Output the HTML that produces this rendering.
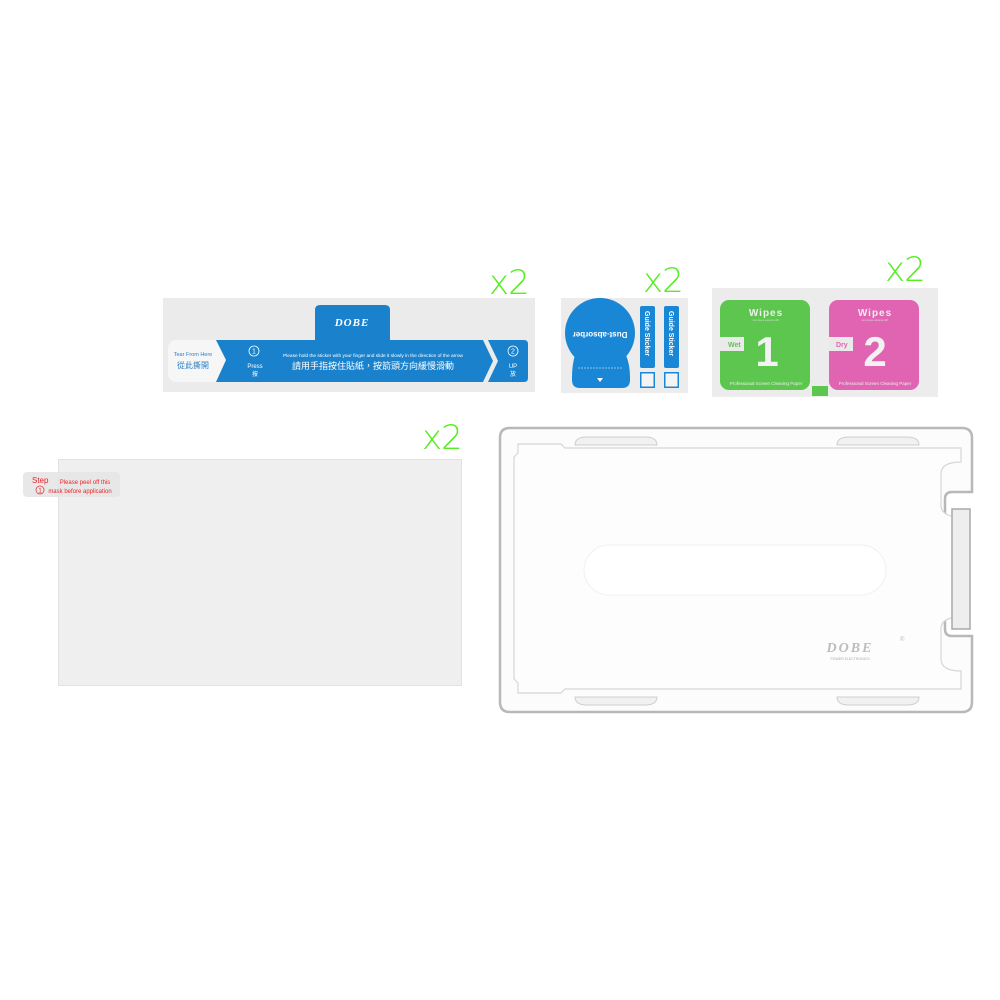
<!DOCTYPE html>
<html><head><meta charset="utf-8"><style>
body{margin:0;width:1000px;height:1000px;background:#fff;position:relative;overflow:hidden;font-family:"Liberation Sans","Noto Sans CJK TC",sans-serif}
.x2{position:absolute;color:#55ee22;font-size:34px;line-height:34px;font-family:"DejaVu Sans","Liberation Sans",sans-serif;font-weight:300;letter-spacing:-1px}
</style></head><body>
<div class="x2" style="left:489px;top:266px">x2</div>
<div class="x2" style="left:643px;top:264px">x2</div>
<div class="x2" style="left:885px;top:253px">x2</div>
<div class="x2" style="left:422px;top:421px">x2</div>

<svg width="1000" height="1000" style="position:absolute;left:0;top:0" xmlns="http://www.w3.org/2000/svg" font-family="Liberation Sans, Noto Sans CJK TC, sans-serif">
<!-- sticker strip -->
<rect x="163" y="298" width="372" height="94" fill="#ebebeb"/>
<rect x="168" y="340" width="62" height="42" rx="8" fill="#f6f6f6"/>
<text x="193" y="356" font-size="5.5" fill="#2a7fc8" text-anchor="middle">Tear From Here</text>
<text x="193" y="368" font-size="8" fill="#2a7fc8" text-anchor="middle">從此撕開</text>
<path d="M315,310 q0,-5 5,-5 h65 q5,0 5,5 v30 h-75z" fill="#1a82cc"/>
<text x="352" y="326" font-size="11" font-style="italic" font-weight="bold" font-family="Liberation Serif,serif" fill="#fff" text-anchor="middle" letter-spacing="1">DOBE</text>
<path d="M216,340 h14 l10,20 l-10,22 h-14 l10,-22z" fill="#1a82cc"/>
<path d="M228,340 h255 l10,21 l-10,21 h-255 l10,-21z" fill="#1a82cc"/>
<path d="M488,340 h36 q4,0 4,4 v34 q0,4 -4,4 h-36 l10,-21z" fill="#1a82cc"/>
<circle cx="254" cy="351" r="5" fill="none" stroke="#fff" stroke-width="0.8"/>
<text x="254" y="353.5" font-size="7" fill="#fff" text-anchor="middle">1</text>
<text x="255" y="368" font-size="6" fill="#fff" text-anchor="middle">Press</text>
<text x="255" y="376" font-size="6" fill="#fff" text-anchor="middle">按</text>
<text x="373" y="357" font-size="4.8" fill="#fff" text-anchor="middle">Please hold the sticker with your finger and slide it slowly in the direction of the arrow</text>
<text x="373" y="369" font-size="9" fill="#fff" text-anchor="middle">請用手指按住貼紙，按箭頭方向緩慢滑動</text>
<circle cx="513" cy="351" r="5" fill="none" stroke="#fff" stroke-width="0.8"/>
<text x="513" y="353.5" font-size="7" fill="#fff" text-anchor="middle">2</text>
<text x="513" y="368" font-size="6" fill="#fff" text-anchor="middle">UP</text>
<text x="513" y="376" font-size="6" fill="#fff" text-anchor="middle">放</text>

<!-- dust absorber card -->
<rect x="561" y="298" width="127" height="95" fill="#ececec"/>
<circle cx="600" cy="333" r="35" fill="#1a86d6"/>
<path d="M575,355 q-3,10 -3,22 v3 q0,8 8,8 h42 q8,0 8,-8 v-3 q0,-12 -4,-22z" fill="#1a86d6"/>
<text x="600" y="338" font-size="8" font-weight="bold" fill="#fff" text-anchor="middle" transform="rotate(180 600 335)">Dust-absorber</text>
<line x1="578" y1="368" x2="622" y2="368" stroke="#fff" stroke-dasharray="2,1" stroke-width="0.6"/>
<path d="M597,378 h6 l-3,4z" fill="#fff"/>
<rect x="640" y="306" width="15" height="62" rx="2" fill="#1a86d6"/>
<rect x="664" y="306" width="15" height="62" rx="2" fill="#1a86d6"/>
<text font-size="7" font-weight="bold" fill="#fff" transform="translate(645,311) rotate(90)">Guide Sticker</text>
<text font-size="7" font-weight="bold" fill="#fff" transform="translate(669,311) rotate(90)">Guide Sticker</text>
<rect x="640" y="372" width="15" height="16" fill="#1a86d6"/><rect x="641.5" y="373.5" width="12" height="13" fill="#f4f4f4"/>
<rect x="664" y="372" width="15" height="16" fill="#1a86d6"/><rect x="665.5" y="373.5" width="12" height="13" fill="#f4f4f4"/>

<!-- wipes -->
<rect x="712" y="288" width="226" height="109" fill="#ececec"/>
<rect x="720" y="300" width="90" height="90" rx="9" fill="#5cc64e"/>
<rect x="829" y="300" width="90" height="90" rx="9" fill="#e064b2"/>
<rect x="812" y="386" width="16" height="10" fill="#5cc64e"/>
<text x="766" y="316" font-size="10" font-weight="bold" fill="#eee" text-anchor="middle" letter-spacing="1">Wipes</text>
<text x="875" y="316" font-size="10" font-weight="bold" fill="#eee" text-anchor="middle" letter-spacing="1">Wipes</text>
<text x="766" y="321" font-size="3" fill="#ddd" text-anchor="middle">removes excess dirt</text>
<text x="875" y="321" font-size="3" fill="#ddd" text-anchor="middle">removes excess dirt</text>
<rect x="720" y="337" width="24" height="14" fill="#eaeaea"/>
<rect x="829" y="337" width="24" height="14" fill="#eaeaea"/>
<text x="728" y="347" font-size="7" fill="#5cc64e" font-weight="bold">Wet</text>
<text x="836" y="347" font-size="7" fill="#e064b2" font-weight="bold">Dry</text>
<text x="767" y="366" font-size="42" font-weight="bold" fill="#f2f2f2" text-anchor="middle">1</text>
<text x="875" y="366" font-size="42" font-weight="bold" fill="#f2f2f2" text-anchor="middle">2</text>
<text x="766" y="385" font-size="4.5" fill="#eee" text-anchor="middle">Professional Screen Cleaning Paper</text>
<text x="875" y="385" font-size="4.5" fill="#eee" text-anchor="middle">Professional Screen Cleaning Paper</text>

<!-- screen film -->
<rect x="58.5" y="459.5" width="403" height="226" fill="#efefef" stroke="#e2e2e2"/>
<rect x="23" y="472" width="97" height="25" rx="4" fill="#e6e6e6" opacity="0.9"/>
<text x="32" y="483" font-size="8" fill="#e8262a">Step</text>
<circle cx="40" cy="490" r="4" fill="none" stroke="#e8262a" stroke-width="0.7"/>
<text x="40" y="492.5" font-size="6" fill="#e8262a" text-anchor="middle">1</text>
<text x="85" y="484" font-size="6" fill="#e8262a" text-anchor="middle">Please peel off this</text>
<text x="80" y="493" font-size="6" fill="#e8262a" text-anchor="middle">mask before application</text>

<!-- tray -->
<path d="M510,428 h452 q10,0 10,10 v54 h-20 q-7,0 -7,7 v130 q0,7 7,7 h20 v66 q0,10 -10,10 h-452 q-10,0 -10,-10 v-264 q0,-10 10,-10z" fill="#fcfcfc" stroke="#b8b8b8" stroke-width="2.5"/>
<path d="M518,444 h43 l4,4 h396 v14 q-20,0 -20,12 v31 q0,12 20,12 v100 q-20,0 -20,12 v30 q0,12 20,12 v18 h-396 l-4,4 h-43 v-10 l-4,-4 v-222 l4,-4z" fill="#fdfdfd" stroke="#d6d6d6" stroke-width="1.2"/>
<path d="M575,445 q0,-8 12,-8 h58 q12,0 12,8z" fill="#f1f1f1" stroke="#cfcfcf"/>
<path d="M837,445 q0,-8 12,-8 h58 q12,0 12,8z" fill="#f1f1f1" stroke="#cfcfcf"/>
<path d="M575,697 q0,8 12,8 h58 q12,0 12,-8z" fill="#f1f1f1" stroke="#cfcfcf"/>
<path d="M837,697 q0,8 12,8 h58 q12,0 12,-8z" fill="#f1f1f1" stroke="#cfcfcf"/>
<rect x="952" y="509" width="18" height="120" fill="#eeeeee" stroke="#a8a8a8" stroke-width="1.5"/>
<rect x="584" y="545" width="302" height="50" rx="25" fill="#ffffff" stroke="#f0f0f0"/>
<text x="850" y="652" font-size="14" font-style="italic" font-weight="bold" font-family="Liberation Serif,serif" fill="#bdbdbd" text-anchor="middle" letter-spacing="2">DOBE</text>
<text x="850" y="660" font-size="3.5" fill="#aaa" text-anchor="middle">POWER ELECTRONICS</text>
<text x="900" y="641" font-size="6" fill="#bbb">®</text>
</svg>
</body></html>
